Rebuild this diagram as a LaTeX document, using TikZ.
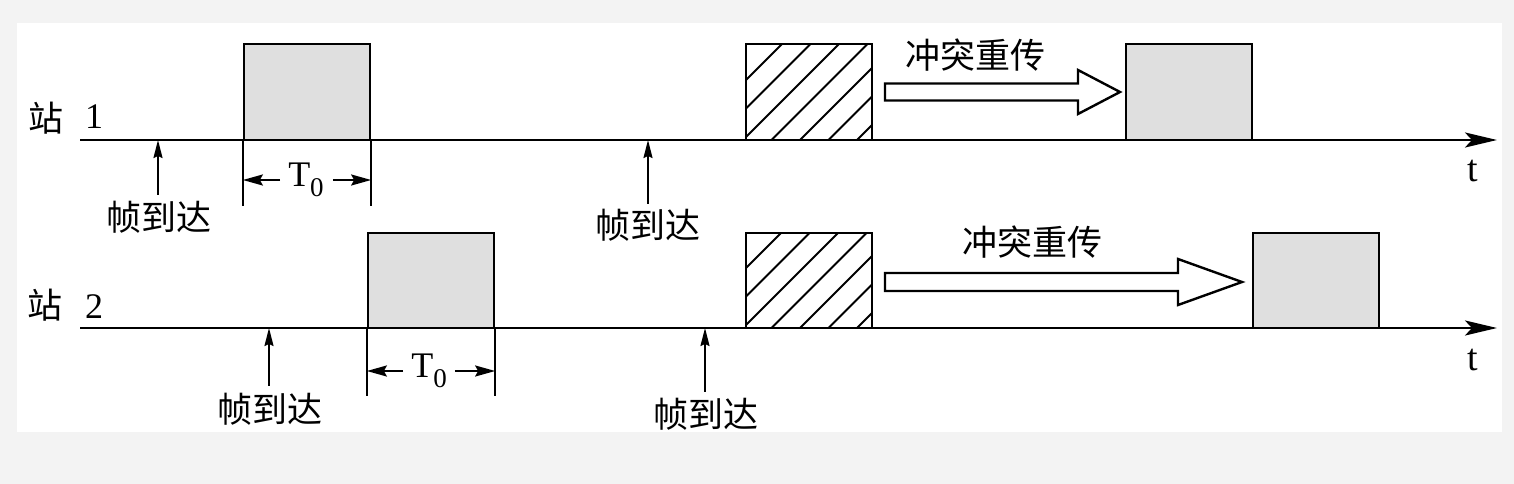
\documentclass[tikz,border=0pt]{standalone}
\usepackage{fontspec}
\setmainfont{Liberation Serif}
\newfontfamily\cjk{Noto Sans CJK SC}
\usetikzlibrary{arrows.meta}
\definecolor{bggray}{RGB}{243,243,243}
\definecolor{boxgray}{RGB}{223,223,223}
\begin{document}
\begin{tikzpicture}[x=1pt,y=-1pt,
  framebox/.style={draw,line width=2.3pt,minimum width=126pt,minimum height=96pt,inner sep=0pt,fill=boxgray},
  hatchbox/.style={draw,line width=2.3pt,minimum width=126pt,minimum height=96pt,inner sep=0pt,fill=white,
    path picture={\foreach \k in {0,...,6}{\draw[line width=1.9pt] ([xshift={(-60+28.5*\k)*1pt}]path picture bounding box.south west) -- ++(140pt,140pt);}}},
  cjklabel/.style={font=\cjk\fontsize{35}{35}\selectfont,inner sep=0pt},
  latin/.style={font=\fontsize{36}{36}\selectfont,inner sep=0pt},
  timeline/.style={line width=2.8pt,-{Stealth[length=32pt,width=15pt,inset=7pt]}},
  uparr/.style={line width=1.9pt,-{Stealth[length=18pt,width=9pt,inset=2pt]}},
  dimarr/.style={line width=2.2pt,-{Stealth[length=20pt,width=11pt,inset=3pt]}},
  tick/.style={line width=2.2pt},
  hollow/.style={draw,line width=2.4pt,fill=white,line join=miter}
]
% background
\fill[bggray] (0,0) rectangle (1514,484);
\fill[white] (17,23) rectangle (1502,432);
\useasboundingbox (0,0) rectangle (1514,484);

% station labels
\node[cjklabel] (s1z) at (46,118) {站};
\node[latin] (s1n) at (94,117) {1};
\node[cjklabel] (s2z) at (45,305) {站};
\node[latin] (s2n) at (94,307) {2};

% boxes station 1
\node[framebox] (b1) at (307,92) {};
\node[hatchbox] (h1) at (809,92) {};
\node[framebox] (b3) at (1189,92) {};
% boxes station 2
\node[framebox,minimum height=95pt] (b4) at (431,280.5) {};
\node[hatchbox,minimum height=95pt] (h2) at (809,280.5) {};
\node[framebox,minimum height=95pt] (b6) at (1316,280.5) {};

% timelines
\coordinate (s1start) at (80,140);
\coordinate (s1end) at (1497,140);
\coordinate (s2start) at (80,328);
\coordinate (s2end) at (1497,328);
\draw[timeline] (s1start) -- (s1end);
\draw[timeline] (s2start) -- (s2end);
\node[latin,font=\fontsize{38}{38}\selectfont] (t1) at (1473,171) {t};
\node[latin,font=\fontsize{38}{38}\selectfont] (t2) at (1473,360) {t};

% retransmission arrows
\draw[hollow] (885,83.5) -- (1078,83.5) -- (1078,70) -- (1120,92) -- (1078,114) -- (1078,100.5) -- (885,100.5) -- cycle;
\draw[hollow] (885,273) -- (1178,273) -- (1178,259) -- (1242,282) -- (1178,305) -- (1178,291) -- (885,291) -- cycle;
\node[cjklabel] (r1) at (975,55) {冲突重传};
\node[cjklabel] (r2) at (1032,242) {冲突重传};

% frame arrivals
\node[cjklabel] (fa1) at (159,217) {帧到达};
\node[cjklabel] (fa2) at (648,225) {帧到达};
\node[cjklabel] (fa3) at (270,409) {帧到达};
\node[cjklabel] (fa4) at (706,414) {帧到达};
\draw[uparr] ([xshift=-1pt,yshift=6pt]fa1.north) -- ([xshift=-1pt]fa1.north |- s1start);
\draw[uparr] ([yshift=5pt]fa2.north) -- (fa2.north |- s1start);
\draw[uparr] ([xshift=-1pt,yshift=7pt]fa3.north) -- ([xshift=-1pt]fa3.north |- s2start);
\draw[uparr] ([xshift=-1pt,yshift=6pt]fa4.north) -- ([xshift=-1pt]fa4.north |- s2start);

% T0 dimensions station 1
\draw[tick] (b1.south west) -- ++(0,65);
\draw[tick] (b1.south east) -- ++(0,65);
\node[latin] (d1) at (306,180) {T\raisebox{-10pt}{\fontsize{27}{27}\selectfont 0}};
\draw[dimarr] ([xshift=-8pt]d1.west) -- (d1.west -| b1.south west);
\draw[dimarr] ([xshift=9pt]d1.east) -- (d1.east -| b1.south east);

% T0 dimensions station 2
\draw[tick] (b4.south west) -- ++(0,67);
\draw[tick] (b4.south east) -- ++(0,67);
\node[latin] (d2) at (429,371) {T\raisebox{-10pt}{\fontsize{27}{27}\selectfont 0}};
\draw[dimarr] ([xshift=-8pt]d2.west) -- (d2.west -| b4.south west);
\draw[dimarr] ([xshift=8pt]d2.east) -- (d2.east -| b4.south east);
\end{tikzpicture}
\end{document}
